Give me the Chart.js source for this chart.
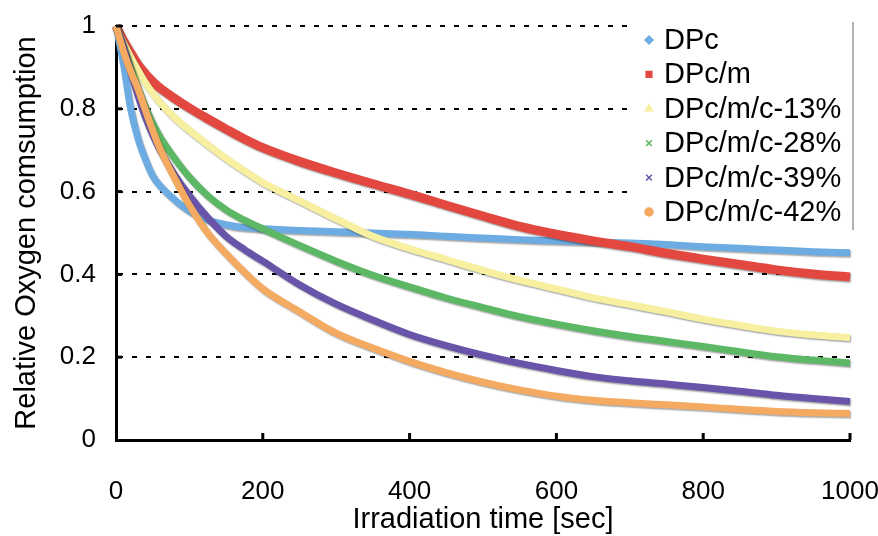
<!DOCTYPE html>
<html>
<head>
<meta charset="utf-8">
<title>Relative Oxygen consumption</title>
<script src="https://cdn.jsdelivr.net/npm/chart.js@4.4.1/dist/chart.umd.min.js"></script>
<style>
  html, body { margin: 0; padding: 0; background: #fff; }
  #wrap { width: 878px; height: 536px; }
</style>
</head>
<body>
<div id="wrap"><canvas id="myChart" width="878" height="536"></canvas></div>
<script>
const times = [0, 10, 20, 30, 40, 50, 60, 80, 100, 125, 150, 175, 200, 250, 300, 350, 400,
  450, 500, 550, 600, 650, 700, 750, 800, 850, 900, 950, 1000];

const dpc = [1.0, 0.91, 0.8, 0.728, 0.678, 0.638, 0.614, 0.58, 0.553, 0.532, 0.52, 0.513, 0.51,
  0.506, 0.503, 0.5, 0.497, 0.492, 0.488, 0.484, 0.481, 0.478, 0.476, 0.472, 0.467, 0.463, 0.459, 0.455, 0.452];
const dpcM = [1.0, 0.965, 0.935, 0.907, 0.885, 0.866, 0.85, 0.825, 0.802, 0.776, 0.751, 0.727, 0.706,
  0.673, 0.645, 0.619, 0.594, 0.567, 0.541, 0.516, 0.497, 0.481, 0.467, 0.451, 0.437, 0.424, 0.411, 0.401, 0.394];
const dpcM13 = [1.0, 0.96, 0.925, 0.893, 0.863, 0.838, 0.815, 0.778, 0.748, 0.713, 0.68, 0.65, 0.622,
  0.578, 0.534, 0.492, 0.462, 0.436, 0.41, 0.386, 0.365, 0.344, 0.327, 0.31, 0.292, 0.277, 0.263, 0.254, 0.247];
const dpcM28 = [1.0, 0.95, 0.9, 0.85, 0.805, 0.765, 0.732, 0.68, 0.635, 0.59, 0.556, 0.531, 0.51,
  0.47, 0.432, 0.398, 0.37, 0.343, 0.32, 0.298, 0.28, 0.264, 0.25, 0.238, 0.226, 0.213, 0.201, 0.193, 0.186];
const dpcM39 = [1.0, 0.95, 0.89, 0.832, 0.78, 0.737, 0.7, 0.64, 0.59, 0.537, 0.492, 0.46, 0.432,
  0.375, 0.328, 0.29, 0.255, 0.228, 0.205, 0.185, 0.168, 0.153, 0.143, 0.135, 0.127, 0.118, 0.108, 0.1, 0.093];
const dpcM42 = [1.0, 0.94, 0.89, 0.848, 0.797, 0.748, 0.703, 0.632, 0.567, 0.5, 0.45, 0.405, 0.365,
  0.31, 0.258, 0.222, 0.19, 0.163, 0.14, 0.121, 0.106, 0.096, 0.09, 0.085, 0.08, 0.074, 0.069, 0.066, 0.064];

const labels = ["DPc", "DPc/m", "DPc/m/c-13%", "DPc/m/c-28%", "DPc/m/c-39%", "DPc/m/c-42%"];
const series = [dpc, dpcM, dpcM13, dpcM28, dpcM39, dpcM42];
const colors = ["#6cace2", "#e2483f", "#f6f0a0", "#5cb864", "#6854a8", "#f4aa60"];
const widths = [7, 9, 7, 7, 7, 7];
const markers = ["rectRot", "rect", "triangle", "crossRot", "crossRot", "circle"];

const FONT = "'Liberation Sans', Arial, Helvetica, sans-serif";
Chart.defaults.font.family = FONT;
Chart.defaults.color = "#000";

// grey drop shadow under the marker bands
const shadowPlugin = {
  id: "shadow",
  beforeDatasetDraw(chart) {
    const c = chart.ctx;
    c.save();
    c.shadowColor = "rgba(0,0,0,0.35)";
    c.shadowOffsetX = 1;
    c.shadowOffsetY = 1.5;
    c.shadowBlur = 1.5;
  },
  afterDatasetDraw(chart) {
    chart.ctx.restore();
  },
};

// legend box sitting inside the plot, covering the grid lines
const legendBox = {
  id: "legendBox",
  beforeDatasetsDraw(chart) {
    const c = chart.ctx;
    c.save();
    c.fillStyle = "#fff";
    c.fillRect(636, 20, 217, 213);
    c.strokeStyle = "#9a9a9a";
    c.lineWidth = 1.5;
    c.beginPath();
    c.moveTo(853, 22);
    c.lineTo(853, 230);
    c.stroke();
    c.font = "29px " + FONT;
    c.textBaseline = "middle";
    labels.forEach((name, i) => {
      const y = 40 + i * 34.4;
      c.fillStyle = colors[i];
      c.strokeStyle = colors[i];
      c.lineWidth = 1.5;
      Chart.helpers.drawPoint(c, { pointStyle: markers[i], radius: 4, rotation: 0, borderWidth: 1.5 }, 649, y);
      c.fillStyle = "#000";
      c.fillText(name, 664, y + 1);
    });
    c.restore();
  },
};

// tick marks pointing into the plot
const innerTicks = {
  id: "innerTicks",
  afterDraw(chart) {
    const c = chart.ctx;
    const { x, y } = chart.scales;
    c.save();
    c.strokeStyle = "#000";
    c.lineWidth = 3;
    y.ticks.forEach((t) => {
      if (t.value === 0) return;
      const py = y.getPixelForValue(t.value);
      c.beginPath();
      c.moveTo(x.left, py);
      c.lineTo(x.left + 6, py);
      c.stroke();
    });
    x.ticks.forEach((t) => {
      if (t.value === 0) return;
      const px = x.getPixelForValue(t.value);
      c.beginPath();
      c.moveTo(px, y.bottom);
      c.lineTo(px, y.bottom - 7);
      c.stroke();
    });
    c.restore();
  },
};

const ctx = document.getElementById("myChart").getContext("2d");
new Chart(ctx, {
  type: "line",
  data: {
    datasets: series.map((vals, i) => ({
      label: labels[i],
      data: times.map((t, k) => ({ x: t, y: vals[k] })),
      borderColor: colors[i],
      backgroundColor: colors[i],
      borderWidth: widths[i],
      pointRadius: 0,
      fill: false,
      cubicInterpolationMode: "monotone",
      clip: false,
      order: labels.length - 1 - i,
    })),
  },
  options: {
    responsive: false,
    animation: false,
    layout: { padding: { left: 0, top: 26, right: 28, bottom: 0 } },
    plugins: {
      legend: { display: false },
      tooltip: { enabled: false },
    },
    scales: {
      x: {
        type: "linear",
        min: 0,
        max: 1000,
        afterFit(scale) {
          scale.height = 96;
          scale.paddingLeft = 0;
          scale.paddingRight = 0;
        },
        ticks: { stepSize: 200, font: { size: 26 }, padding: 36, maxRotation: 0, callback: (v) => String(v) },
        grid: { drawOnChartArea: false, drawTicks: false },
        border: { display: true, color: "#000", width: 3 },
        title: {
          display: true,
          text: "Irradiation time [sec]",
          font: { size: 29, lineHeight: 1.1 },
          padding: { top: 0, bottom: 0 },
        },
      },
      y: {
        min: 0,
        max: 1,
        afterFit(scale) {
          scale.width = 116;
          scale.paddingTop = 0;
          scale.paddingBottom = 0;
        },
        ticks: {
          stepSize: 0.2,
          font: { size: 26 },
          padding: 20,
          callback: (v) => (v === 0 || v === 1 ? String(v) : v.toFixed(1)),
        },
        grid: {
          drawTicks: false,
          lineWidth: 2,
          color: (c) => (c.tick && c.tick.value > 0 ? "#000" : "transparent"),
        },
        border: { display: true, color: "#000", width: 3, dash: [5, 9] },
        title: {
          display: true,
          text: "Relative Oxygen comsumption",
          font: { size: 29, lineHeight: 1.1 },
          padding: { top: 11, bottom: 0 },
        },
      },
    },
  },
  plugins: [legendBox, shadowPlugin, innerTicks],
});
</script>
</body>
</html>
